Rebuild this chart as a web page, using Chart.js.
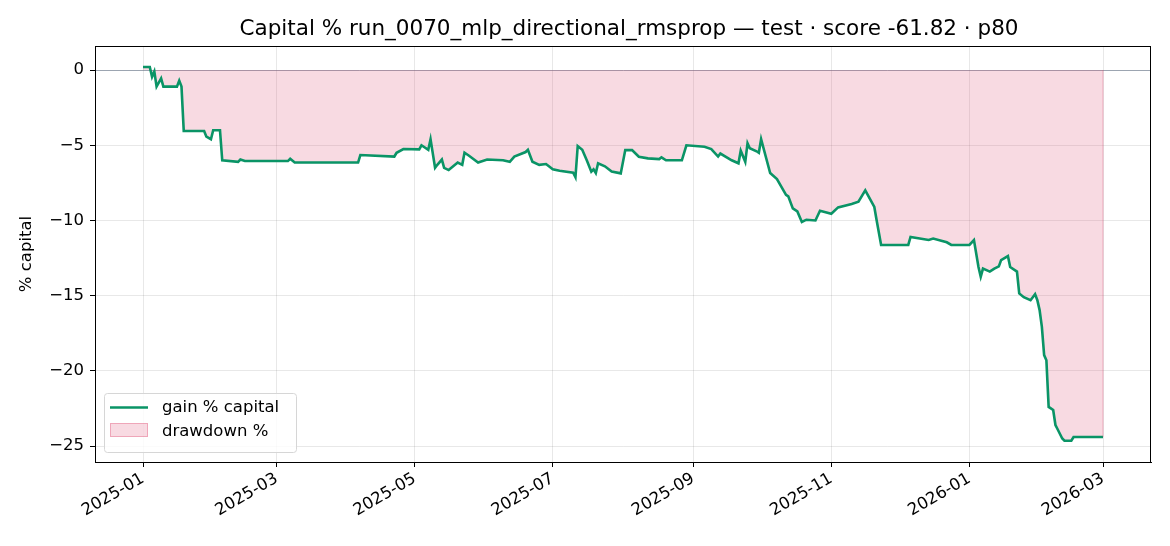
<!DOCTYPE html>
<html lang="en">
<head>
    <meta charset="UTF-8">
    <title>Capital % run_0070_mlp_directional_rmsprop</title>
    <script src="https://cdn.jsdelivr.net/npm/chart.js"></script>
    <style>
        body { margin: 0; background: #fff; }
        canvas { display: block; }
    </style>
</head>
<body>
    <canvas id="capChart" width="1170" height="546"></canvas>

    <script type='text/javascript'>
        // Data
        var dates = [
            '2025-01-01', '2025-01-04', '2025-01-05', '2025-01-06', '2025-01-07', '2025-01-09', '2025-01-10',
            '2025-01-16', '2025-01-17', '2025-01-18', '2025-01-19', '2025-01-28', '2025-01-29', '2025-01-31',
            '2025-02-01', '2025-02-04', '2025-02-05', '2025-02-12', '2025-02-13', '2025-02-15', '2025-03-06',
            '2025-03-07', '2025-03-09', '2025-04-06', '2025-04-07', '2025-04-22', '2025-04-23', '2025-04-26',
            '2025-05-03', '2025-05-04', '2025-05-07', '2025-05-08', '2025-05-10', '2025-05-11', '2025-05-13',
            '2025-05-14', '2025-05-16', '2025-05-18', '2025-05-20', '2025-05-22', '2025-05-23', '2025-05-25',
            '2025-05-29', '2025-06-02', '2025-06-09', '2025-06-12', '2025-06-14', '2025-06-19', '2025-06-20',
            '2025-06-22', '2025-06-25', '2025-06-28', '2025-07-01', '2025-07-04', '2025-07-10', '2025-07-11',
            '2025-07-12', '2025-07-14', '2025-07-16', '2025-07-18', '2025-07-19', '2025-07-20', '2025-07-21',
            '2025-07-24', '2025-07-27', '2025-07-31', '2025-08-02', '2025-08-05', '2025-08-08', '2025-08-12',
            '2025-08-17', '2025-08-18', '2025-08-20', '2025-08-27', '2025-08-29', '2025-09-06', '2025-09-09',
            '2025-09-12', '2025-09-13', '2025-09-18', '2025-09-21', '2025-09-22', '2025-09-24', '2025-09-25',
            '2025-09-26', '2025-09-29', '2025-09-30', '2025-10-01', '2025-10-05', '2025-10-08', '2025-10-12',
            '2025-10-13', '2025-10-15', '2025-10-17', '2025-10-19', '2025-10-21', '2025-10-25', '2025-10-27',
            '2025-11-01', '2025-11-04', '2025-11-10', '2025-11-13', '2025-11-16', '2025-11-18', '2025-11-20',
            '2025-11-21', '2025-11-23', '2025-12-05', '2025-12-06', '2025-12-14', '2025-12-16', '2025-12-22',
            '2025-12-24', '2026-01-01', '2026-01-03', '2026-01-05', '2026-01-06', '2026-01-07', '2026-01-10',
            '2026-01-12', '2026-01-14', '2026-01-15', '2026-01-18', '2026-01-19', '2026-01-22', '2026-01-23',
            '2026-01-25', '2026-01-28', '2026-01-30', '2026-01-31', '2026-02-01', '2026-02-02', '2026-02-03',
            '2026-02-04', '2026-02-05', '2026-02-07', '2026-02-08', '2026-02-09', '2026-02-11', '2026-02-12',
            '2026-02-15', '2026-02-16', '2026-03-01'
        ];
        var gain = [
            0.2, 0.2, -0.45, -0.1, -1.1, -0.55, -1.1,
            -1.1, -0.7, -1.1, -4.05, -4.05, -4.43, -4.6,
            -4.0, -4.0, -6.0, -6.1, -5.95, -6.05, -6.05,
            -5.9, -6.15, -6.15, -5.65, -5.75, -5.5, -5.25,
            -5.27, -5.0, -5.3, -4.6, -6.5, -6.3, -5.95,
            -6.5, -6.65, -6.4, -6.15, -6.3, -5.5, -5.7,
            -6.15, -5.95, -6.0, -6.1, -5.75, -5.45, -5.3,
            -6.1, -6.3, -6.25, -6.6, -6.7, -6.83, -7.13,
            -5.05, -5.3, -6.0, -6.76, -6.6, -6.85, -6.2,
            -6.4, -6.75, -6.87, -5.32, -5.32, -5.76, -5.87,
            -5.92, -5.8, -6.0, -6.0, -5.0, -5.1, -5.25,
            -5.75, -5.55, -6.0, -6.2, -5.36, -6.1, -4.87,
            -5.2, -5.4, -5.5, -4.6, -6.85, -7.25, -8.3,
            -8.4, -9.2, -9.4, -10.1, -9.95, -10.0, -9.35,
            -9.55, -9.13, -8.9, -8.75, -8.0, -8.55, -9.1,
            -9.97, -11.63, -11.63, -11.1, -11.3, -11.2, -11.45,
            -11.63, -11.63, -11.3, -13.1, -13.74, -13.2, -13.4,
            -13.2, -13.05, -12.63, -12.37, -13.1, -13.4, -14.85,
            -15.1, -15.3, -14.9, -15.3, -15.96, -17.07, -18.95,
            -19.3, -22.4, -22.6, -23.6, -23.9, -24.5, -24.65,
            -24.65, -24.4, -24.4
        ];
        var xTickDates = ['2025-01-01', '2025-03-01', '2025-05-01', '2025-07-01', '2025-09-01', '2025-11-01', '2026-01-01', '2026-03-01'];
        var yTicks = [0, -5, -10, -15, -20, -25];
        var seriesNames = ['gain % capital', 'drawdown %'];
        var titleText = 'Capital % run_0070_mlp_directional_rmsprop \u2014 test \u00b7 score -61.82 \u00b7 p80';

        // days since 2025-01-01, so a plain linear axis can be used
        var day0 = Date.parse('2025-01-01T00:00:00Z');
        function toDay(d) {
            return (Date.parse(d + 'T00:00:00Z') - day0) / 86400000;
        }
        function dayLabel(v) {
            var dt = new Date(day0 + v * 86400000);
            var m = dt.getUTCMonth() + 1;
            return dt.getUTCFullYear() + '-' + (m < 10 ? '0' + m : m);
        }

        var points = [];
        for (var i = 0; i < dates.length; i++) {
            points.push({ x: toDay(dates[i]), y: gain[i] });
        }

        var FONT = 'DejaVu Sans';
        var green = '#0a9466';
        var pinkFill = 'rgba(222, 70, 110, 0.2)';
        var pinkEdge = 'rgba(222, 70, 110, 0.35)';

        // title, closing edge of the fill, axes box and legend (matplotlib look)
        var extras = {
            id: 'extras',
            afterDatasetsDraw: function (chart) {
                var ctx = chart.ctx;
                var xs = chart.scales.x, ys = chart.scales.y;
                var last = points[points.length - 1];
                var px = xs.getPixelForValue(last.x);
                ctx.save();
                ctx.strokeStyle = pinkEdge;
                ctx.lineWidth = 1;
                ctx.beginPath();
                ctx.moveTo(px, ys.getPixelForValue(0));
                ctx.lineTo(px, ys.getPixelForValue(last.y));
                ctx.stroke();
                ctx.restore();
            },
            afterDraw: function (chart) {
                var ctx = chart.ctx;
                var a = chart.chartArea;
                ctx.save();

                ctx.fillStyle = '#000';
                ctx.font = '21.5px ' + FONT;
                ctx.textAlign = 'center';
                ctx.textBaseline = 'middle';
                ctx.fillText(titleText, (a.left + a.right) / 2 + 6, 29);

                ctx.strokeStyle = '#000';
                ctx.lineWidth = 1;
                ctx.strokeRect(Math.round(a.left) + 0.5, Math.round(a.top) + 0.5,
                    Math.round(a.right - a.left) - 1, Math.round(a.bottom - a.top));

                // legend box
                var lx = a.left + 9, ly = a.bottom - 69, lw = 192, lh = 59;
                ctx.fillStyle = 'rgba(255,255,255,0.8)';
                ctx.strokeStyle = '#d6d6d6';
                ctx.beginPath();
                ctx.roundRect(lx + 0.5, ly + 0.5, lw, lh, 3);
                ctx.fill();
                ctx.stroke();

                ctx.strokeStyle = green;
                ctx.lineWidth = 2.5;
                ctx.beginPath();
                ctx.moveTo(lx + 6, ly + 14.5);
                ctx.lineTo(lx + 44, ly + 14.5);
                ctx.stroke();

                ctx.fillStyle = pinkFill;
                ctx.fillRect(lx + 6, ly + 30, 38, 14);
                ctx.strokeStyle = pinkEdge;
                ctx.lineWidth = 1;
                ctx.strokeRect(lx + 6.5, ly + 30.5, 37, 13);

                ctx.fillStyle = '#000';
                ctx.font = '16.5px ' + FONT;
                ctx.textAlign = 'left';
                ctx.fillText(seriesNames[0], lx + 58, ly + 15);
                ctx.fillText(seriesNames[1], lx + 58, ly + 39);
                ctx.restore();
            }
        };

        var ctx = document.getElementById('capChart').getContext('2d');

        new Chart(ctx, {
            type: 'line',
            data: {
                datasets: [{
                    label: seriesNames[0],
                    data: points,
                    borderColor: green,
                    borderWidth: 2.6,
                    pointRadius: 0,
                    tension: 0,
                    fill: false
                }, {
                    label: seriesNames[1],
                    data: points,
                    borderColor: pinkEdge,
                    borderWidth: 1,
                    backgroundColor: pinkFill,
                    pointRadius: 0,
                    tension: 0,
                    fill: 'origin'
                }]
            },
            options: {
                responsive: false,
                animation: false,
                layout: { padding: { left: 0, right: 19, top: 46, bottom: 0 } },
                plugins: {
                    legend: { display: false },
                    tooltip: { enabled: false },
                    title: { display: false }
                },
                scales: {
                    x: {
                        type: 'linear',
                        min: -21.2,
                        max: 445.2,
                        afterBuildTicks: function (scale) {
                            scale.ticks = xTickDates.map(function (d) { return { value: toDay(d) }; });
                        },
                        afterFit: function (scale) { scale.height = 84; },
                        ticks: {
                            autoSkip: false,
                            minRotation: 30,
                            maxRotation: 30,
                            color: '#000',
                            padding: 2,
                            font: { family: FONT, size: 16.5 },
                            callback: function (v) { return dayLabel(v); }
                        },
                        grid: {
                            color: 'rgba(0,0,0,0.09)',
                            tickColor: '#000',
                            tickLength: 5
                        },
                        border: { color: '#000' }
                    },
                    y: {
                        min: -26.06,
                        max: 1.6,
                        afterBuildTicks: function (scale) {
                            scale.ticks = yTicks.map(function (v) { return { value: v }; });
                        },
                        afterFit: function (scale) { scale.width = 95; },
                        title: {
                            display: true,
                            text: '% capital',
                            color: '#000',
                            font: { family: FONT, size: 16.5 },
                            padding: { top: 17, bottom: 0 }
                        },
                        ticks: {
                            color: '#000',
                            padding: 6,
                            font: { family: FONT, size: 16.5 },
                            callback: function (v) { return String(v).replace('-', '\u2212'); }
                        },
                        grid: {
                            color: function (c) {
                                return c.tick && c.tick.value === 0 ? 'rgba(90,105,125,0.6)' : 'rgba(0,0,0,0.09)';
                            },
                            tickColor: '#000',
                            tickLength: 5
                        },
                        border: { color: '#000' }
                    }
                }
            },
            plugins: [extras]
        });
    </script>
</body>
</html>
